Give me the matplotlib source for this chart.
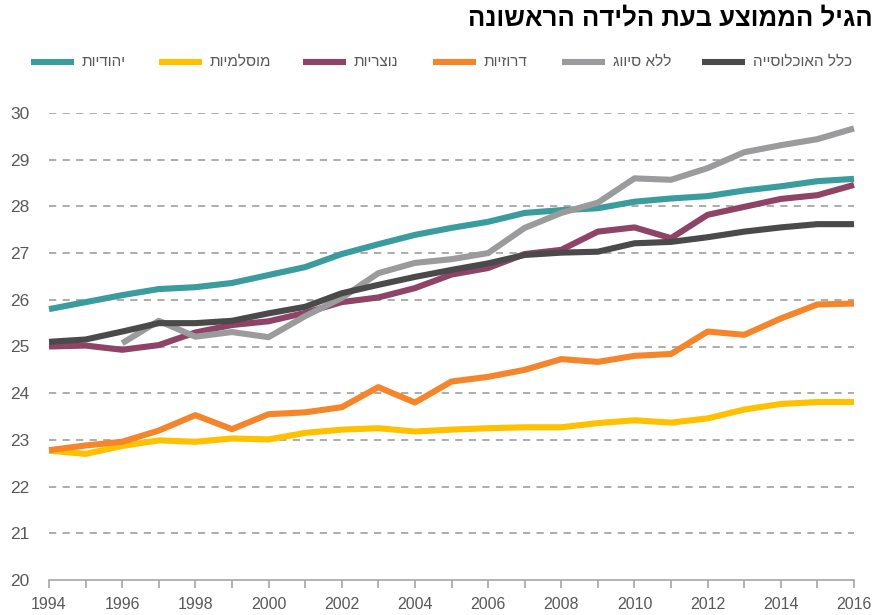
import matplotlib
matplotlib.use("Agg")
import matplotlib.pyplot as plt
from matplotlib.lines import Line2D
import numpy as np

plt.rcParams['font.family'] = ['Liberation Sans', 'DejaVu Sans']

years = list(range(1994, 2017))

jewish = [25.80, 25.95, 26.10, 26.23, 26.27, 26.36, 26.53, 26.70, 26.98, 27.19, 27.39, 27.54,
          27.67, 27.86, 27.92, 27.96, 28.10, 28.17, 28.22, 28.34, 28.43, 28.54, 28.59]
muslim = [22.77, 22.70, 22.87, 22.99, 22.96, 23.03, 23.01, 23.15, 23.22, 23.25, 23.18, 23.22,
          23.25, 23.27, 23.27, 23.36, 23.42, 23.37, 23.46, 23.65, 23.77, 23.81, 23.81]
christian = [25.00, 25.02, 24.93, 25.03, 25.30, 25.46, 25.54, 25.72, 25.95, 26.05, 26.25, 26.54,
             26.68, 26.98, 27.07, 27.46, 27.55, 27.32, 27.82, 27.99, 28.16, 28.24, 28.46]
druze = [22.78, 22.88, 22.96, 23.20, 23.53, 23.23, 23.55, 23.59, 23.70, 24.13, 23.80, 24.25,
         24.35, 24.50, 24.73, 24.67, 24.80, 24.84, 25.32, 25.25, 25.60, 25.90, 25.92]
unclassified = [None, None, 25.07, 25.55, 25.21, 25.31, 25.20, 25.65, 26.04, 26.57, 26.79, 26.87,
                27.00, 27.54, 27.86, 28.08, 28.60, 28.57, 28.82, 29.16, 29.31, 29.44, 29.67]
total = [25.10, 25.15, 25.32, 25.50, 25.50, 25.55, 25.71, 25.85, 26.14, 26.32, 26.49, 26.64,
         26.78, 26.96, 27.01, 27.03, 27.21, 27.24, 27.34, 27.46, 27.55, 27.62, 27.62]

title = "הגיל הממוצע בעת הלידה הראשונה"
names = ["יהודיות", "מוסלמיות", "נוצריות", "דרוזיות", "ללא סיווג", "כלל האוכלוסייה"]
colors = ["#3A9C9D", "#FFC000", "#8F4367", "#F5852B", "#9B9B9D", "#4A4A4B"]
series = [jewish, muslim, christian, druze, unclassified, total]
draw_order = [0, 1, 3, 2, 4, 5]

ytick_vals = list(range(20, 31))
xtick_labels = [str(y) for y in range(1994, 2017, 2)]

def rtl(s):
    return s[::-1]

W, H = 878, 615
fig = plt.figure(figsize=(W / 100, H / 100), dpi=100)
ax = fig.add_axes([49 / W, 1 - 580 / H, (854 - 49) / W, (580 - 113) / H])

for i in draw_order:
    vals = np.array([np.nan if v is None else v for v in series[i]], dtype=float)
    ax.plot(years, vals, color=colors[i], lw=4.4, solid_capstyle='butt',
            solid_joinstyle='round', clip_on=False, zorder=3)

ax.set_xlim(1994, 2016)
ax.set_ylim(20, 30)
ax.set_yticks(ytick_vals)
ax.set_yticklabels([str(v) for v in ytick_vals])
ax.set_xticks(years, minor=False)
ax.set_xticklabels([str(y) if (y - 1994) % 2 == 0 else "" for y in years])

for v in ytick_vals[1:]:
    ax.axhline(v, color="#A6A6A6", lw=1.3, ls=(0, (4, 3.5)), zorder=1)

for s in ['top', 'right', 'left']:
    ax.spines[s].set_visible(False)
ax.spines['bottom'].set_color("#A6A6A6")
ax.spines['bottom'].set_linewidth(1.2)

ax.tick_params(axis='y', length=0, pad=14, labelsize=12.5, labelcolor="#595959")
ax.tick_params(axis='x', length=6, width=1.2, color="#A6A6A6", direction='out',
               pad=6, labelsize=11.5, labelcolor="#595959")

fig.text(873 / W, 1 - 18 / H, rtl(title), ha='right', va='center',
         fontsize=18.5, fontweight='bold', color='black')

swatch_left = [31, 159, 303, 433, 562, 702]
ly = 1 - 62 / H
for i, xl in enumerate(swatch_left):
    fig.add_artist(Line2D([xl / W, (xl + 43) / W], [ly, ly], transform=fig.transFigure,
                          color=colors[i], lw=4.4, solid_capstyle='butt'))
    fig.text((xl + 51) / W, ly, rtl(names[i]), ha='left', va='center',
             fontsize=11, color="#595959")

fig.savefig("out.png", dpi=100)
